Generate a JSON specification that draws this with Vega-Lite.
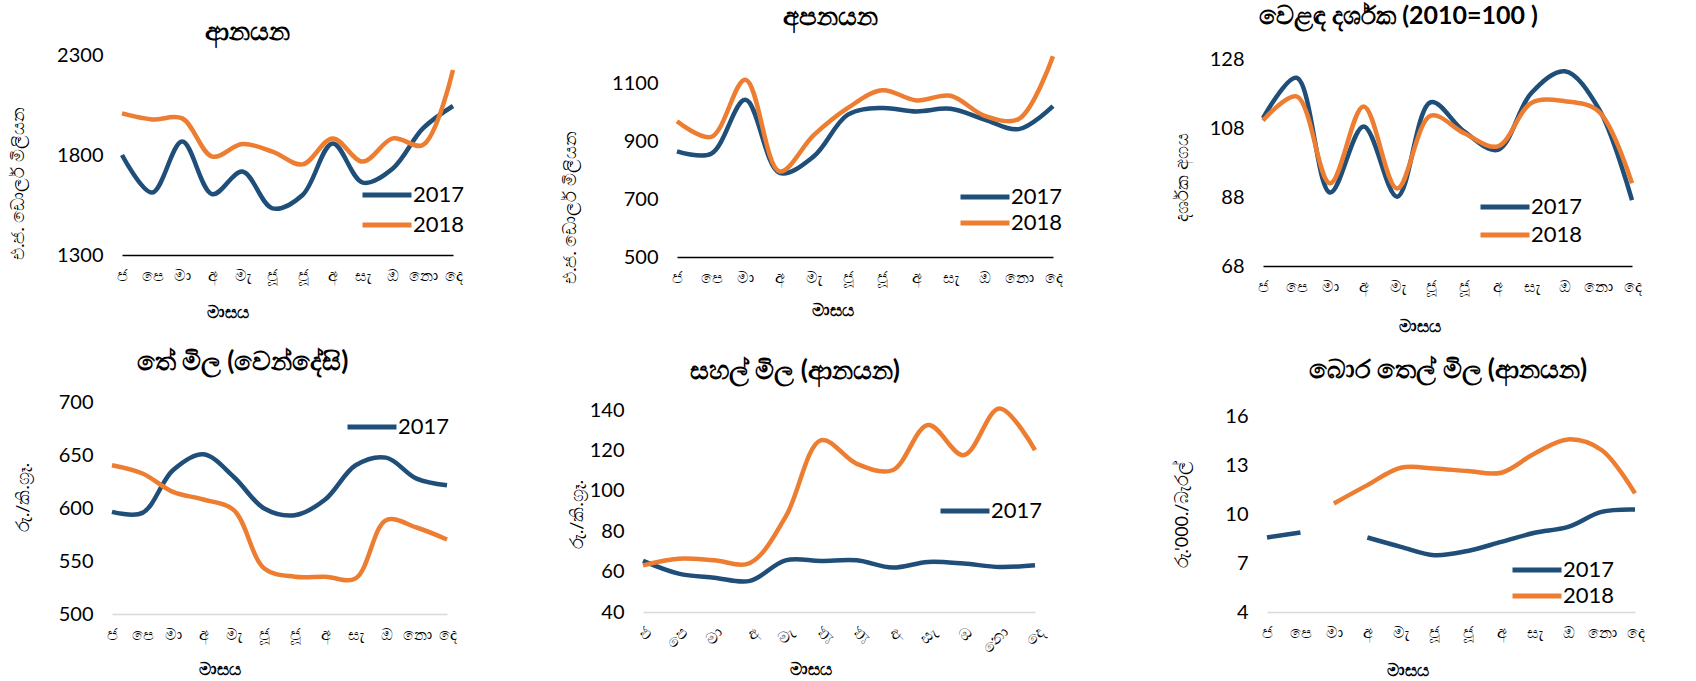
{
  "$schema": "https://vega.github.io/schema/vega-lite/v6.json",
  "autosize": {"type": "none"},
  "padding": {"left": 112, "top": 54, "right": 1584, "bottom": 627},
  "background": "white",
  "datasets": {
    "p1": [
      {"m":1,"year":"2017","v":1800},{"m":2,"year":"2017","v":1612},{"m":3,"year":"2017","v":1867},{"m":4,"year":"2017","v":1604},{"m":5,"year":"2017","v":1717},{"m":6,"year":"2017","v":1533},{"m":7,"year":"2017","v":1600},{"m":8,"year":"2017","v":1858},{"m":9,"year":"2017","v":1662},{"m":10,"year":"2017","v":1733},{"m":11,"year":"2017","v":1933},{"m":12,"year":"2017","v":2045},
      {"m":1,"year":"2018","v":2008},{"m":2,"year":"2018","v":1978},{"m":3,"year":"2018","v":1983},{"m":4,"year":"2018","v":1792},{"m":5,"year":"2018","v":1855},{"m":6,"year":"2018","v":1817},{"m":7,"year":"2018","v":1753},{"m":8,"year":"2018","v":1883},{"m":9,"year":"2018","v":1767},{"m":10,"year":"2018","v":1883},{"m":11,"year":"2018","v":1850},{"m":12,"year":"2018","v":2225}
    ],
    "p2": [
      {"m":1,"year":"2017","v":864},{"m":2,"year":"2017","v":856},{"m":3,"year":"2017","v":1042},{"m":4,"year":"2017","v":790},{"m":5,"year":"2017","v":847},{"m":6,"year":"2017","v":991},{"m":7,"year":"2017","v":1014},{"m":8,"year":"2017","v":1002},{"m":9,"year":"2017","v":1011},{"m":10,"year":"2017","v":974},{"m":11,"year":"2017","v":941},{"m":12,"year":"2017","v":1020},
      {"m":1,"year":"2018","v":968},{"m":2,"year":"2018","v":914},{"m":3,"year":"2018","v":1111},{"m":4,"year":"2018","v":795},{"m":5,"year":"2018","v":920},{"m":6,"year":"2018","v":1014},{"m":7,"year":"2018","v":1075},{"m":8,"year":"2018","v":1040},{"m":9,"year":"2018","v":1056},{"m":10,"year":"2018","v":987},{"m":11,"year":"2018","v":976},{"m":12,"year":"2018","v":1192}
    ],
    "p3": [
      {"m":1,"year":"2017","v":110.9},{"m":2,"year":"2017","v":122.6},{"m":3,"year":"2017","v":89.3},{"m":4,"year":"2017","v":108.5},{"m":5,"year":"2017","v":88.1},{"m":6,"year":"2017","v":115.5},{"m":7,"year":"2017","v":107},{"m":8,"year":"2017","v":101.7},{"m":9,"year":"2017","v":118.2},{"m":10,"year":"2017","v":124.5},{"m":11,"year":"2017","v":113.8},{"m":12,"year":"2017","v":87.1},
      {"m":1,"year":"2018","v":110.2},{"m":2,"year":"2018","v":117.2},{"m":3,"year":"2018","v":92},{"m":4,"year":"2018","v":114.3},{"m":5,"year":"2018","v":90.5},{"m":6,"year":"2018","v":111.6},{"m":7,"year":"2018","v":106.5},{"m":8,"year":"2018","v":102.7},{"m":9,"year":"2018","v":115.3},{"m":10,"year":"2018","v":115.8},{"m":11,"year":"2018","v":112.9},{"m":12,"year":"2018","v":92}
    ],
    "p4": [
      {"m":1,"year":"2017","v":596.4},{"m":2,"year":"2017","v":595.4},{"m":3,"year":"2017","v":635.6},{"m":4,"year":"2017","v":650.7},{"m":5,"year":"2017","v":629.3},{"m":6,"year":"2017","v":599.5},{"m":7,"year":"2017","v":593.2},{"m":8,"year":"2017","v":608},{"m":9,"year":"2017","v":640.3},{"m":10,"year":"2017","v":647.5},{"m":11,"year":"2017","v":627.7},{"m":12,"year":"2017","v":621.5},
      {"m":1,"year":"2018","v":640.3},{"m":2,"year":"2018","v":632.5},{"m":3,"year":"2018","v":615.2},{"m":4,"year":"2018","v":608},{"m":5,"year":"2018","v":598},{"m":6,"year":"2018","v":543},{"m":7,"year":"2018","v":535.2},{"m":8,"year":"2018","v":535.2},{"m":9,"year":"2018","v":533.6},{"m":10,"year":"2018","v":588.5},{"m":11,"year":"2018","v":581.6},{"m":12,"year":"2018","v":570.3}
    ],
    "p5": [
      {"m":1,"year":"2017","v":65.3},{"m":2,"year":"2017","v":59},{"m":3,"year":"2017","v":57},{"m":4,"year":"2017","v":55.4},{"m":5,"year":"2017","v":65.6},{"m":6,"year":"2017","v":65.3},{"m":7,"year":"2017","v":65.6},{"m":8,"year":"2017","v":62},{"m":9,"year":"2017","v":64.8},{"m":10,"year":"2017","v":64},{"m":11,"year":"2017","v":62.3},{"m":12,"year":"2017","v":63.1},
      {"m":1,"year":"2018","v":63.1},{"m":2,"year":"2018","v":66.4},{"m":3,"year":"2018","v":65.6},{"m":4,"year":"2018","v":64.3},{"m":5,"year":"2018","v":87.1},{"m":6,"year":"2018","v":125.1},{"m":7,"year":"2018","v":113.4},{"m":8,"year":"2018","v":110.2},{"m":9,"year":"2018","v":132.6},{"m":10,"year":"2018","v":117.7},{"m":11,"year":"2018","v":140.8},{"m":12,"year":"2018","v":120.2}
    ],
    "p6": [
      {"m":1,"year":"2017","v":8.56},{"m":2,"year":"2017","v":8.87},{"m":3,"year":"2017","v":null},{"m":4,"year":"2017","v":8.56},{"m":5,"year":"2017","v":7.99},{"m":6,"year":"2017","v":7.48},{"m":7,"year":"2017","v":7.74},{"m":8,"year":"2017","v":8.29},{"m":9,"year":"2017","v":8.85},{"m":10,"year":"2017","v":9.21},{"m":11,"year":"2017","v":10.13},{"m":12,"year":"2017","v":10.28},
      {"m":1,"year":"2018","v":null},{"m":2,"year":"2018","v":null},{"m":3,"year":"2018","v":10.65},{"m":4,"year":"2018","v":11.77},{"m":5,"year":"2018","v":12.83},{"m":6,"year":"2018","v":12.79},{"m":7,"year":"2018","v":12.63},{"m":8,"year":"2018","v":12.53},{"m":9,"year":"2018","v":13.71},{"m":10,"year":"2018","v":14.57},{"m":11,"year":"2018","v":13.92},{"m":12,"year":"2018","v":11.26}
    ]
  },
  "spacing": 348,
  "bounds": "flush",
  "resolve": {"scale": {"color": "independent"}, "legend": {"color": "independent"}},
  "vconcat": [
    {
      "spacing": 210,
      "bounds": "flush",
      "resolve": {"scale": {"color": "independent"}, "legend": {"color": "independent"}},
      "hconcat": [
        {
          "width": 341, "height": 201,
          "title": {"text": "ආනයන", "anchor": "middle", "dx": -35, "offset": 0},
          "data": {"name": "p1"},
          "mark": {"type": "line", "interpolate": "catmull-rom", "strokeWidth": 4.5, "invalid": "break-paths-show-domains"},
          "encoding": {
            "x": {"field": "m", "type": "ordinal", "scale": {"type": "point", "padding": 0, "range": [10, 341]},
                  "axis": {"title": "මාසය", "titleX": 115, "titleY": 57, "domainColor": "#000000"}},
            "y": {"field": "v", "type": "quantitative", "scale": {"domain": [1300, 2305], "nice": false, "zero": false},
                  "axis": {"values": [1300, 1800, 2300], "offset": -10, "title": "එ.ජ. ඩොලර් මිලියන", "titleX": -104, "titleY": 129}},
            "color": {"field": "year", "type": "nominal", "scale": {"domain": ["2017", "2018"], "range": ["#1F4E79", "#ED7D31"]},
                      "legend": {"orient": "none", "legendX": 248, "legendY": 126, "rowPadding": 4}}
          }
        },
        {
          "width": 390, "height": 203,
          "title": {"text": "අපනයන", "anchor": "middle", "dx": -28, "offset": 17},
          "data": {"name": "p2"},
          "mark": {"type": "line", "interpolate": "catmull-rom", "strokeWidth": 4.5, "invalid": "break-paths-show-domains"},
          "encoding": {
            "x": {"field": "m", "type": "ordinal", "scale": {"type": "point", "padding": 0, "range": [14, 390]},
                  "axis": {"title": "මාසය", "titleX": 169, "titleY": 53, "domainColor": "#000000"}},
            "y": {"field": "v", "type": "quantitative", "scale": {"domain": [500, 1200], "nice": false, "zero": false},
                  "axis": {"values": [500, 700, 900, 1100], "offset": -14, "title": "එ.ජ. ඩොලර් මිලියන", "titleX": -107, "titleY": 153}},
            "color": {"field": "year", "type": "nominal", "scale": {"domain": ["2017", "2018"], "range": ["#1F4E79", "#ED7D31"]},
                      "legend": {"orient": "none", "legendX": 295, "legendY": 128, "rowPadding": 0}}
          }
        },
        {
          "width": 369, "height": 212,
          "title": {"text": "වෙළඳ දර්ශක (2010=100 )", "anchor": "middle", "dx": -49, "offset": 20, "fontSize": 25},
          "data": {"name": "p3"},
          "mark": {"type": "line", "interpolate": "catmull-rom", "strokeWidth": 4.5, "invalid": "break-paths-show-domains"},
          "encoding": {
            "x": {"field": "m", "type": "ordinal", "scale": {"type": "point", "padding": 0},
                  "axis": {"title": "මාසය", "titleX": 156, "titleY": 60, "domainColor": "#000000"}},
            "y": {"field": "v", "type": "quantitative", "scale": {"domain": [68, 129.5], "nice": false, "zero": false},
                  "axis": {"values": [68, 88, 108, 128], "title": "දර්ශක අගය", "titleX": -81, "titleY": 123}},
            "color": {"field": "year", "type": "nominal", "scale": {"domain": ["2017", "2018"], "range": ["#1F4E79", "#ED7D31"]},
                      "legend": {"orient": "none", "legendX": 215, "legendY": 138, "rowPadding": 2}}
          }
        }
      ]
    },
    {
      "spacing": 196,
      "bounds": "flush",
      "resolve": {"scale": {"color": "independent"}, "legend": {"color": "independent"}},
      "hconcat": [
        {
          "width": 335, "height": 212,
          "title": {"text": "තේ මිල (වෙන්දේසි)", "anchor": "middle", "dx": -37, "offset": 17},
          "data": {"name": "p4"},
          "mark": {"type": "line", "interpolate": "catmull-rom", "strokeWidth": 4.5, "invalid": "break-paths-show-domains"},
          "encoding": {
            "x": {"field": "m", "type": "ordinal", "scale": {"type": "point", "padding": 0},
                  "axis": {"title": "මාසය", "titleX": 107, "titleY": 55, "domainColor": "#D9D9D9"}},
            "y": {"field": "v", "type": "quantitative", "scale": {"domain": [500, 700], "nice": false, "zero": false},
                  "axis": {"values": [500, 550, 600, 650, 700], "title": "රු./කි.ග්‍රෑ.", "titleX": -89, "titleY": 95}},
            "color": {"field": "year", "type": "nominal", "scale": {"domain": ["2017", "2018"], "range": ["#1F4E79", "#ED7D31"]},
                      "legend": {"orient": "none", "legendX": 233, "legendY": 10, "values": ["2017"]}}
          }
        },
        {
          "width": 428, "height": 210,
          "title": {"text": "සහල් මිල (ආනයන)", "anchor": "middle", "dx": -62, "offset": 15},
          "data": {"name": "p5"},
          "mark": {"type": "line", "interpolate": "catmull-rom", "strokeWidth": 4.5, "invalid": "break-paths-show-domains"},
          "encoding": {
            "x": {"field": "m", "type": "ordinal", "scale": {"type": "point", "padding": 0, "range": [0, 392]},
                  "axis": {"title": "මාසය", "titleX": 167, "titleY": 57, "domainColor": "#D9D9D9", "labelAngle": -45, "labelAlign": "right", "labelBaseline": "top"}},
            "y": {"field": "v", "type": "quantitative", "scale": {"domain": [40, 144], "nice": false, "zero": false},
                  "axis": {"values": [40, 60, 80, 100, 120, 140], "title": "රු./කි.ග්‍රෑ.", "titleX": -66, "titleY": 112}},
            "color": {"field": "year", "type": "nominal", "scale": {"domain": ["2017", "2018"], "range": ["#1F4E79", "#ED7D31"]},
                      "legend": {"orient": "none", "legendX": 295, "legendY": 94, "values": ["2017"]}}
          }
        },
        {
          "width": 368, "height": 210,
          "title": {"text": "බොර තෙල් මිල (ආනයන)", "anchor": "middle", "dx": -3, "offset": 19},
          "data": {"name": "p6"},
          "mark": {"type": "line", "interpolate": "catmull-rom", "strokeWidth": 4.5, "invalid": "break-paths-show-domains"},
          "encoding": {
            "x": {"field": "m", "type": "ordinal", "scale": {"type": "point", "padding": 0},
                  "axis": {"title": "මාසය", "titleX": 140, "titleY": 58, "domainColor": "#D9D9D9"}},
            "y": {"field": "v", "type": "quantitative", "scale": {"domain": [4, 16.86], "nice": false, "zero": false},
                  "axis": {"values": [4, 7, 10, 13, 16], "title": "රු.'000./බැරල්", "titleX": -85, "titleY": 112}},
            "color": {"field": "year", "type": "nominal", "scale": {"domain": ["2017", "2018"], "range": ["#1F4E79", "#ED7D31"]},
                      "legend": {"orient": "none", "legendX": 243, "legendY": 153, "rowPadding": 0}}
          }
        }
      ]
    }
  ],
  "config": {
    "view": {"stroke": null},
    "font": "Lato",
    "title": {"fontSize": 26, "fontWeight": "bold", "color": "#000000", "frame": "group"},
    "axis": {"grid": false, "ticks": false, "labelColor": "#000000", "titleColor": "#000000", "labelFont": "Lato", "titleFont": "Lato"},
    "axisX": {"domainWidth": 1.5, "labelFontSize": 16, "labelPadding": 12, "labelAngle": 0,
              "labelExpr": "['ජ','පෙ','මා','අ','මැ','ජූ','ජූ','අ','සැ','ඔ','නො','දෙ'][datum.value - 1]",
              "titleFontSize": 17, "titleFontWeight": "bold", "titleBaseline": "middle", "titleAnchor": "middle", "titleAlign": "center"},
    "axisY": {"domain": false, "format": "d", "labelFontSize": 20, "labelPadding": 19, "titleFontSize": 18, "titleFontWeight": "normal", "titleBaseline": "middle", "titleAlign": "center", "titleAngle": -90},
    "legend": {"title": null, "symbolType": "M-1.96,0H1.96", "symbolStrokeWidth": 5, "symbolSize": 625, "symbolOffset": 12, "labelFontSize": 22, "labelFont": "Lato", "labelColor": "#000000", "labelOffset": 11, "padding": 0}
  }
}
